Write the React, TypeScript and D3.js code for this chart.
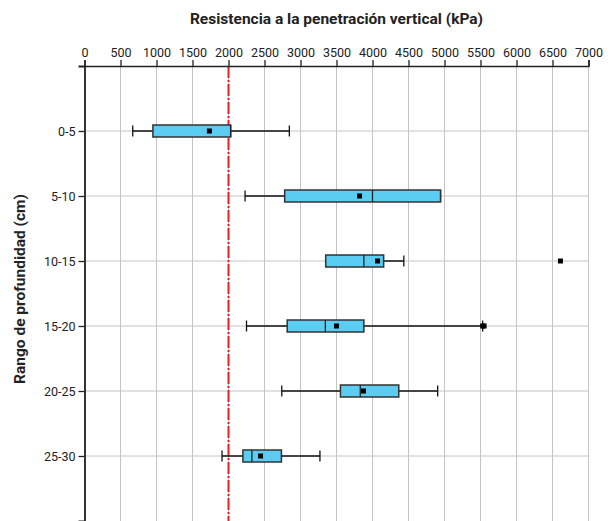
import React, { useEffect, useRef } from 'react';
import * as d3 from 'd3';

// profundidad (cm)
const categories = ['0-5', '5-10', '10-15', '15-20', '20-25', '25-30'];
// resistencia (kPa)
const whiskerLow = [670, 2230, 3350, 2250, 2740, 1910];
const q1 = [950, 2780, 3350, 2815, 3555, 2200];
const median = [2030, 4000, 3880, 3345, 3830, 2325];
const q3 = [2030, 4945, 4155, 3880, 4365, 2735];
const whiskerHigh = [2845, 4945, 4435, 5530, 4905, 3270];
const means = [1735, 3820, 4070, 3500, 3875, 2445];
const outliers = [[], [], [6610], [5530, 5550], [], []];
const xTicks = [0, 500, 1000, 1500, 2000, 2500, 3000, 3500, 4000, 4500, 5000, 5500, 6000, 6500, 7000];
const threshold = 2000;

function App() {
  const svgRef = useRef(null);

  useEffect(() => {
    const svg = d3.select(svgRef.current);
    svg.selectAll('*').remove();

    const width = 611;
    const height = 521;
    const marginTop = 66;
    const marginLeft = 84.5;
    const marginRight = 22.5;
    const font = 'Roboto, sans-serif';

    const x = d3.scaleLinear().domain([0, 7000]).range([marginLeft, width - marginRight]);
    const y = d3.scaleLinear().domain([0, 7]).range([marginTop, height]);

    // grid
    svg.append('g')
      .selectAll('line')
      .data(xTicks)
      .join('line')
      .attr('x1', d => x(d)).attr('x2', d => x(d))
      .attr('y1', marginTop).attr('y2', height)
      .attr('stroke', '#c4c4c4').attr('stroke-width', 1);
    svg.append('g')
      .selectAll('line')
      .data(categories)
      .join('line')
      .attr('x1', marginLeft).attr('x2', width - marginRight)
      .attr('y1', (d, i) => y(i + 1)).attr('y2', (d, i) => y(i + 1))
      .attr('stroke', '#c4c4c4').attr('stroke-width', 1);

    // linea umbral
    svg.append('line')
      .attr('x1', x(threshold)).attr('x2', x(threshold))
      .attr('y1', marginTop).attr('y2', height)
      .attr('stroke', '#f01c24').attr('stroke-width', 2)
      .attr('stroke-dasharray', '12,2,2,2');

    const boxH = 12;
    const capH = 11;
    const g = svg.append('g')
      .selectAll('g')
      .data(categories)
      .join('g')
      .attr('transform', (d, i) => `translate(0,${y(i + 1)})`);

    // bigotes
    g.append('line')
      .attr('x1', (d, i) => x(whiskerLow[i])).attr('x2', (d, i) => x(whiskerHigh[i]))
      .attr('stroke', '#111').attr('stroke-width', 1.3);
    g.append('line')
      .attr('x1', (d, i) => x(whiskerLow[i])).attr('x2', (d, i) => x(whiskerLow[i]))
      .attr('y1', -capH / 2).attr('y2', capH / 2)
      .attr('stroke', '#111').attr('stroke-width', 1.3);
    g.append('line')
      .attr('x1', (d, i) => x(whiskerHigh[i])).attr('x2', (d, i) => x(whiskerHigh[i]))
      .attr('y1', -capH / 2).attr('y2', capH / 2)
      .attr('stroke', '#111').attr('stroke-width', 1.3);

    // cajas
    g.append('rect')
      .attr('x', (d, i) => x(q1[i]))
      .attr('width', (d, i) => x(q3[i]) - x(q1[i]))
      .attr('y', -boxH / 2).attr('height', boxH)
      .attr('fill', '#5bcdf2').attr('stroke', '#333').attr('stroke-width', 1.5);
    g.append('line')
      .attr('x1', (d, i) => x(median[i])).attr('x2', (d, i) => x(median[i]))
      .attr('y1', -boxH / 2).attr('y2', boxH / 2)
      .attr('stroke', '#222').attr('stroke-width', 1.3);

    // media
    g.append('rect')
      .attr('x', (d, i) => x(means[i]) - 2.5).attr('y', -2.5)
      .attr('width', 5).attr('height', 5).attr('fill', '#000');

    // atipicos
    g.selectAll('rect.out')
      .data((d, i) => outliers[i])
      .join('rect')
      .attr('class', 'out')
      .attr('x', v => x(v) - 2.5).attr('y', -2.5)
      .attr('width', 5).attr('height', 5).attr('fill', '#000');

    // ejes
    svg.append('g')
      .attr('transform', `translate(0,${marginTop})`)
      .call(d3.axisTop(x).tickValues(xTicks).tickFormat(d3.format('d')))
      .call(a => a.select('.domain').attr('stroke', '#222').attr('stroke-width', 1.5))
      .call(a => a.selectAll('.tick line').attr('stroke', '#222').attr('stroke-width', 1.3))
      .call(a => a.selectAll('.tick text').attr('fill', '#222').attr('font-size', 12.5).attr('font-family', font));

    svg.append('g')
      .attr('transform', `translate(${marginLeft},0)`)
      .call(d3.axisLeft(y).tickValues([1, 2, 3, 4, 5, 6]).tickFormat((d, i) => categories[i]))
      .call(a => a.select('.domain').attr('stroke', '#222').attr('stroke-width', 1.8))
      .call(a => a.selectAll('.tick line').attr('stroke', '#222').attr('stroke-width', 1.3))
      .call(a => a.selectAll('.tick text').attr('fill', '#222').attr('font-size', 12.5).attr('font-family', font));

    // titulos
    svg.append('text')
      .attr('x', (marginLeft + width - marginRight) / 2)
      .attr('y', 24)
      .attr('text-anchor', 'middle')
      .attr('font-family', font)
      .attr('font-weight', 'bold')
      .attr('font-size', 15.5)
      .attr('fill', '#222')
      .text('Resistencia a la penetración vertical (kPa)');

    svg.append('text')
      .attr('transform', `translate(25,289) rotate(-90)`)
      .attr('text-anchor', 'middle')
      .attr('font-family', font)
      .attr('font-weight', 'bold')
      .attr('font-size', 15.5)
      .attr('fill', '#222')
      .text('Rango de profundidad (cm)');
  }, []);

  return (
    <svg ref={svgRef} width={611} height={521}
      style={{ position: 'absolute', left: 0, top: 0, background: '#fff' }} />
  );
}

export default App;
